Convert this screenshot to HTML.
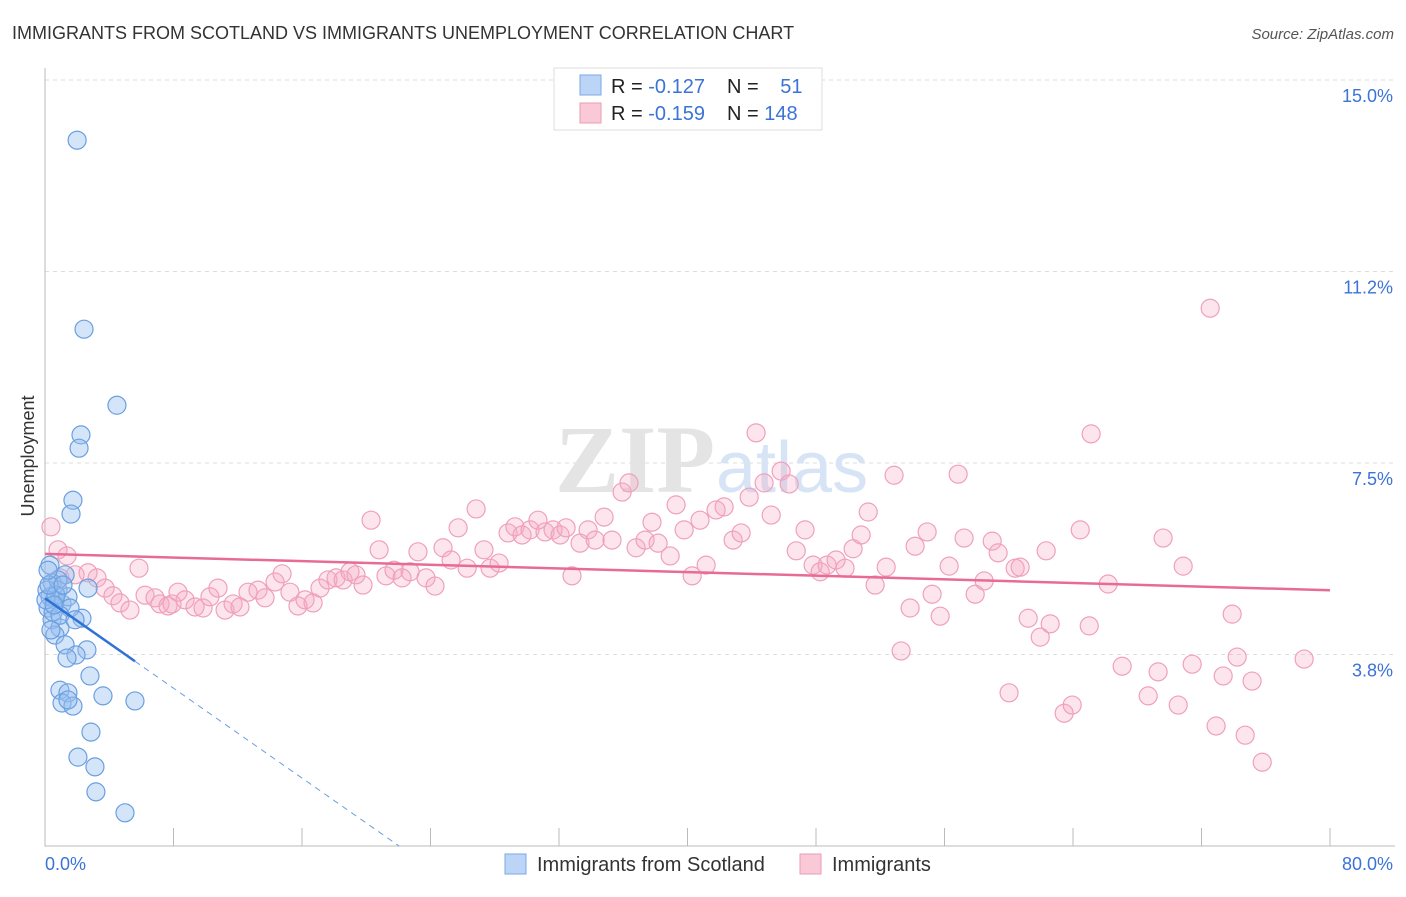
<!DOCTYPE html>
<html><head><meta charset="utf-8"><style>
body{margin:0;background:#fff;font-family:"Liberation Sans",sans-serif;}
</style></head><body>
<svg width="1406" height="892" xmlns="http://www.w3.org/2000/svg" id="chart">
<text x="12" y="39" font-size="18" fill="#333">IMMIGRANTS FROM SCOTLAND VS IMMIGRANTS UNEMPLOYMENT CORRELATION CHART</text>
<text x="1394" y="39" font-size="15" fill="#555" font-style="italic" text-anchor="end">Source: ZipAtlas.com</text>
<text x="34" y="456" font-size="18" fill="#333" text-anchor="middle" transform="rotate(-90 34 456)">Unemployment</text>
<g id="grid"></g>
<text x="555" y="492" font-size="96" fill="#e4e4e4" font-family="Liberation Serif" font-weight="bold">ZIP</text>
<text x="716" y="492" font-size="72" fill="#d6e4f5">atlas</text>
<g id="pts"></g>
<g id="lines"></g>
<g>
<rect x="554" y="68" width="268" height="62" fill="#fff" stroke="#ddd"/>
<rect x="580" y="75" width="21" height="20" fill="#bcd5f7" stroke="#7aaae8"/>
<rect x="580" y="103" width="21" height="20" fill="#f9c9d8" stroke="#ee9ab5"/>
<text x="611" y="93" font-size="20" fill="#222">R = <tspan fill="#3b73d6">-0.127</tspan></text>
<text x="727" y="93" font-size="20" fill="#222">N = <tspan fill="#3b73d6" dx="16">51</tspan></text>
<text x="611" y="120" font-size="20" fill="#222">R = <tspan fill="#3b73d6">-0.159</tspan></text>
<text x="727" y="120" font-size="20" fill="#222">N = <tspan fill="#3b73d6">148</tspan></text>
</g>
<g>
<rect x="505" y="854" width="21" height="20" fill="#bcd5f7" stroke="#7aaae8"/>
<text x="537" y="871" font-size="20" fill="#333">Immigrants from Scotland</text>
<rect x="800" y="854" width="21" height="20" fill="#f9c9d8" stroke="#ee9ab5"/>
<text x="832" y="871" font-size="20" fill="#333">Immigrants</text>
</g>
</svg>
<script>
const blueX=[2.0,2.43,4.48,2.24,2.12,1.74,1.62,0.31,1.25,0.44,0.81,2.68,0.31,0.62,1.06,0.19,1.43,2.30,0.44,0.93,0.62,1.25,2.61,1.93,1.37,2.80,0.93,1.43,3.61,5.60,1.06,1.74,1.43,2.86,2.05,3.11,3.17,4.98,0.12,0.5,0.81,0.06,1.56,0.68,0.25,0.93,1.87,1.12,0.37,0.19,0.56];
const blueY=[13.82,10.12,8.63,8.05,7.79,6.77,6.50,5.50,5.31,5.15,5.01,5.05,4.88,4.82,4.74,4.66,4.88,4.46,4.43,4.27,4.13,3.94,3.84,3.74,3.68,3.33,3.05,3.00,2.94,2.84,2.80,2.74,2.86,2.23,1.74,1.55,1.06,0.65,5.01,4.58,5.21,4.82,4.66,4.91,5.11,4.52,4.43,5.11,4.23,5.40,4.72];
const pinkX=[0.37,0.81,1.37,0.93,1.87,2.68,3.24,3.74,4.23,4.67,5.29,5.85,6.23,6.85,7.16,7.66,7.91,8.28,8.72,9.34,9.84,10.27,10.77,11.21,11.71,12.14,12.64,13.26,13.70,14.32,14.76,15.25,15.75,16.19,16.69,17.12,17.62,18.12,18.56,18.99,19.36,19.80,20.30,20.80,21.23,21.73,22.23,22.73,23.22,23.72,24.28,24.78,25.28,25.72,26.28,26.84,27.33,27.71,28.27,28.83,29.26,29.70,30.20,30.69,31.13,31.63,32.07,32.44,32.81,33.31,33.81,34.25,34.81,35.30,35.93,36.36,36.80,37.36,37.79,38.17,38.92,39.29,39.79,40.29,40.78,41.16,41.78,42.28,42.84,43.34,43.84,44.27,44.77,45.21,45.83,46.33,46.77,47.32,47.82,48.26,48.69,49.25,49.81,50.31,50.81,51.25,51.68,52.37,52.86,53.30,53.86,54.17,54.92,55.23,55.73,56.29,56.85,57.22,57.91,58.47,58.97,59.34,60.02,60.40,60.71,61.21,61.96,62.33,62.58,63.45,63.95,64.45,65.01,65.13,66.19,67.06,68.68,69.30,69.61,70.55,70.86,71.42,72.54,72.91,73.35,73.91,74.22,74.72,75.15,75.78,78.39];
const pinkY=[6.25,5.80,5.68,5.25,5.31,5.35,5.25,5.05,4.90,4.76,4.62,5.44,4.91,4.86,4.74,4.70,4.74,4.97,4.82,4.68,4.66,4.88,5.05,4.62,4.74,4.68,4.97,5.01,4.86,5.17,5.33,4.97,4.70,4.82,4.76,5.05,5.21,5.25,5.21,5.37,5.31,5.11,6.38,5.80,5.29,5.40,5.25,5.37,5.76,5.25,5.09,5.84,5.60,6.23,5.44,6.60,5.80,5.44,5.54,6.13,6.25,6.09,6.19,6.38,6.15,6.19,6.09,6.23,5.29,5.93,6.19,5.99,6.44,5.99,6.93,7.11,5.84,5.99,6.34,5.93,5.68,6.68,6.19,5.29,6.38,5.50,6.58,6.64,5.99,6.13,6.83,8.09,7.11,6.48,7.34,7.09,5.78,6.19,5.50,5.37,5.50,5.60,5.44,5.82,6.09,6.54,5.11,5.46,7.26,3.82,4.66,5.87,6.15,4.93,4.50,5.48,7.28,6.03,4.93,5.19,5.97,5.74,3.00,5.44,5.46,4.46,4.09,5.78,4.35,2.60,2.76,6.19,4.31,8.07,5.13,3.52,2.94,3.41,6.03,2.76,5.48,3.56,10.53,2.35,3.33,4.54,3.70,2.17,3.23,1.64,3.66];
const yTicks=[3.75,7.5,11.25,15];
const yTickLabels=["3.8%","7.5%","11.2%","15.0%"];
const xTicks=[0,8,16,24,32,40,48,56,64,72,80];
const blueTrend=[4.85,-0.22];
const pinkTrend=[5.72,-0.0089];
const X=v=>45+v*1285/80, Y=v=>846-v*51.07;
const NS='http://www.w3.org/2000/svg';
function mk(t,a,p){const e=document.createElementNS(NS,t);for(const k in a)e.setAttribute(k,a[k]);p.appendChild(e);return e;}
const svg=document.getElementById('chart'),grid=document.getElementById('grid'),pts=document.getElementById('pts'),lines=document.getElementById('lines');
yTicks.forEach((v,i)=>{
 const l=mk('line',{x1:45,x2:1395,y1:Y(v),y2:Y(v),stroke:'#ddd','stroke-dasharray':'4,4'},grid);
 
 
 const t=mk('text',{x:1393,y:Y(v)+22,'font-size':18,fill:'#3b73d6','text-anchor':'end'},grid);t.textContent=yTickLabels[i];
 
 
});
const ax=mk('path',{d:'M45 68V846H1395',stroke:'#bbb',fill:'none'},grid);


xTicks.forEach(v=>{if(v===0)return;const l=mk('line',{x1:X(v),x2:X(v),y1:828,y2:846,stroke:'#bbb'},grid);
 
 });
const xl0=mk('text',{x:45,y:870,'font-size':18,fill:'#3b73d6'},grid);xl0.textContent='0.0%';


const xl1=mk('text',{x:1393,y:870,'font-size':18,fill:'#3b73d6','text-anchor':'end'},grid);xl1.textContent='80.0%';


pinkX.forEach((v,i)=>{const c=mk('circle',{cx:X(v),cy:Y(pinkY[i]),r:9,fill:'rgba(244,170,195,0.3)',stroke:'#f0a0bb','stroke-width':1.2},pts);
 
 });
blueX.forEach((v,i)=>{const c=mk('circle',{cx:X(v),cy:Y(blueY[i]),r:9,fill:'rgba(150,190,240,0.4)',stroke:'#6a9fe0','stroke-width':1.2},pts);
 
 });
const pl=mk('line',{x1:X(0),y1:Y(pinkTrend[0]),x2:X(80),y2:Y(pinkTrend[0]+pinkTrend[1]*80),stroke:'#e86b95','stroke-width':2.5},lines);


const bl=mk('line',{x1:X(0),y1:Y(blueTrend[0]),x2:X(5.6),y2:Y(blueTrend[0]+blueTrend[1]*5.6),stroke:'#2f72d6','stroke-width':2.5},lines);


const end=-blueTrend[0]/blueTrend[1];
const bd=mk('line',{x1:X(5.6),y1:Y(blueTrend[0]+blueTrend[1]*5.6),x2:X(end),y2:Y(0),stroke:'#6a9fe0','stroke-width':1,'stroke-dasharray':'6,5'},lines);


</script>
</body></html>
